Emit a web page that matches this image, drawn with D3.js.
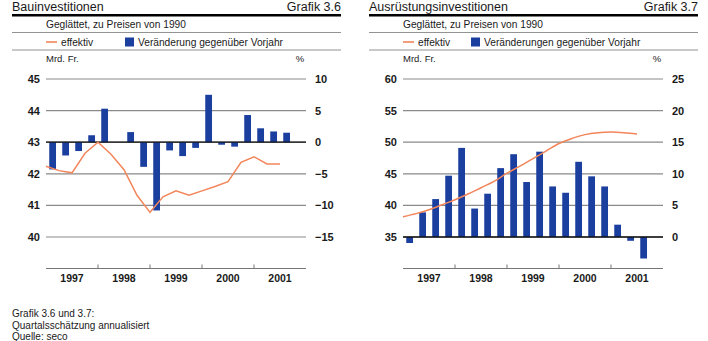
<!DOCTYPE html>
<html>
<head>
<meta charset="utf-8">
<script src="https://cdn.jsdelivr.net/npm/d3@7"></script>
<style>
  body { margin: 0; background: #fff; }
  svg { display: block; font-family: "Liberation Sans", Arial, sans-serif; }
</style>
</head>
<body>
<svg id="chart" width="708" height="341"></svg>
<script>
// quarters 1997Q1 .. 2001Q4 (20 slots), data runs to 2001Q3
let years = ["1997", "1998", "1999", "2000", "2001"];
let quarters = [];
years.forEach(y => [1, 2, 3, 4].forEach(q => quarters.push(y + "Q" + q)));

// Grafik 3.6 Bauinvestitionen
let bauEffektiv = [42.24, 42.1, 42.03, 42.65, 43.0, 42.62, 42.13, 41.32, 40.78, 41.27,
  41.46, 41.32, 41.46, 41.6, 41.75, 42.36, 42.54, 42.31, 42.31];
let bauVeraenderung = [-4.3, -2.1, -1.4, 1.1, 5.3, 0, 1.6, -3.9, -10.8, -1.3,
  -2.2, -0.9, 7.5, -0.4, -0.7, 4.3, 2.2, 1.7, 1.5];
let bauLeftTicks = [40, 41, 42, 43, 44, 45];
let bauRightTicks = [-15, -10, -5, 0, 5, 10];

// Grafik 3.7 Ausruestungsinvestitionen
let ausEffektiv = [38.2, 38.7, 39.3, 40.1, 40.9, 41.8, 42.8, 43.8, 45.1, 46.2,
  47.4, 48.6, 49.8, 50.6, 51.2, 51.5, 51.6, 51.5, 51.3];
let ausVeraenderung = [-0.95, 3.9, 6.0, 9.7, 14.1, 4.5, 6.85, 10.9, 13.1, 8.7,
  13.5, 8.0, 7.0, 11.9, 9.6, 8.0, 1.95, -0.6, -3.4];
let ausLeftTicks = [35, 40, 45, 50, 55, 60];
let ausRightTicks = [0, 5, 10, 15, 20, 25];

let blue = "#1b3f9e";
let orange = "#f2855a";
let gridGray = "#8a8a8a";
let textColor = "#1a1a1a";

let svg = d3.select("#chart");

function drawPanel(opt) {
  let g = svg.append("g");
  let left = opt.plotLeft, right = opt.plotLeft + 260;
  let top = 79, bottom = 237;

  // header
  g.append("text").attr("x", opt.panelLeft).attr("y", 10.5)
    .text(opt.title).style("font-size", "12.5px").style("fill", textColor);
  g.append("text").attr("x", opt.panelRight).attr("y", 10.5)
    .attr("text-anchor", "end")
    .text(opt.grafik).style("font-size", "12.5px").style("fill", textColor);
  g.append("rect").attr("x", opt.panelLeft).attr("y", 14)
    .attr("width", opt.panelRight - opt.panelLeft).attr("height", 2.5)
    .attr("fill", "#000");
  g.append("text").attr("x", left).attr("y", 28)
    .text("Geglättet, zu Preisen von 1990")
    .style("font-size", "10.2px").style("fill", textColor);
  g.append("line").attr("x1", opt.panelLeft).attr("x2", opt.panelRight)
    .attr("y1", 32.5).attr("y2", 32.5).attr("stroke", "#777").attr("stroke-width", 0.8);

  // legend
  g.append("line").attr("x1", left).attr("x2", left + 11)
    .attr("y1", 42).attr("y2", 42).attr("stroke", orange).attr("stroke-width", 1.6);
  g.append("text").attr("x", left + 15).attr("y", 45.5)
    .text("effektiv").style("font-size", "10.2px").style("fill", textColor);
  g.append("rect").attr("x", opt.legendSq).attr("y", 37.5)
    .attr("width", 9).attr("height", 9).attr("fill", blue);
  g.append("text").attr("x", opt.legendSq + 13).attr("y", 45.5)
    .text(opt.legendText).style("font-size", "10.2px").style("fill", textColor);
  g.append("line").attr("x1", opt.panelLeft).attr("x2", opt.panelRight)
    .attr("y1", 50).attr("y2", 50).attr("stroke", "#777").attr("stroke-width", 0.8);

  g.append("text").attr("x", left).attr("y", 62)
    .text("Mrd. Fr.").style("font-size", "9.5px").style("fill", textColor);
  g.append("text").attr("x", right - 6).attr("y", 62).attr("text-anchor", "middle")
    .text("%").style("font-size", "9.5px").style("fill", textColor);

  // scales
  let x = d3.scaleBand().domain(quarters).range([left, right]);
  let yL = d3.scaleLinear().domain(opt.leftDomain).range([bottom, top]);
  let yR = d3.scaleLinear().domain(opt.rightDomain).range([bottom, top]);

  // gridlines
  g.selectAll(".grid").data(opt.leftTicks).enter().append("line")
    .attr("x1", left).attr("x2", right)
    .attr("y1", d => yL(d)).attr("y2", d => yL(d))
    .attr("stroke", gridGray).attr("stroke-width", 1.2);

  // left axis labels
  g.append("g").attr("transform", "translate(" + (left - 6) + ",0)")
    .call(d3.axisLeft(yL).tickValues(opt.leftTicks).tickSize(0).tickPadding(0)
      .tickFormat(d3.format("d")))
    .call(a => a.select(".domain").remove())
    .selectAll("text")
      .style("font-family", "Liberation Sans, Arial, sans-serif")
      .style("font-size", "11px").style("font-weight", "bold").style("fill", textColor);

  // right axis labels
  g.append("g").attr("transform", "translate(" + (right + 9) + ",0)")
    .call(d3.axisRight(yR).tickValues(opt.rightTicks).tickSize(0).tickPadding(0)
      .tickFormat(d => d < 0 ? "\u2212" + Math.abs(d) : d))
    .call(a => a.select(".domain").remove())
    .selectAll("text")
      .style("font-family", "Liberation Sans, Arial, sans-serif")
      .style("font-size", "11px").style("font-weight", "bold").style("fill", textColor);

  // bars
  let bw = x.bandwidth();
  g.selectAll(".bar").data(opt.bars).enter().append("rect")
    .attr("x", (d, i) => x(quarters[i]) + bw * 0.25)
    .attr("width", bw * 0.52)
    .attr("y", d => yR(Math.max(0, d)))
    .attr("height", d => Math.abs(yR(d) - yR(0)))
    .attr("fill", blue);

  // zero line on top of bars
  g.append("line").attr("x1", left).attr("x2", right)
    .attr("y1", yR(0)).attr("y2", yR(0))
    .attr("stroke", "#111").attr("stroke-width", 1.3);

  // effektiv line
  let line = d3.line()
    .x((d, i) => x(quarters[i]))
    .y(d => yL(d))
    .curve(opt.smooth ? d3.curveMonotoneX : d3.curveLinear);
  g.append("path").datum(opt.line)
    .attr("d", line).attr("fill", "none")
    .attr("stroke", orange).attr("stroke-width", 1.5);

  // x axis
  let xAxisY = 268.5;
  g.append("line").attr("x1", left).attr("x2", right)
    .attr("y1", xAxisY).attr("y2", xAxisY).attr("stroke", "#777").attr("stroke-width", 1);
  g.selectAll(".ytick").data(years.slice(1)).enter().append("line")
    .attr("x1", d => x(d + "Q1")).attr("x2", d => x(d + "Q1"))
    .attr("y1", xAxisY - 4).attr("y2", xAxisY).attr("stroke", "#777");
  g.selectAll(".ylab").data(years).enter().append("text")
    .attr("x", d => x(d + "Q1") + bw * 2)
    .attr("y", 281.5).attr("text-anchor", "middle")
    .text(d => d)
    .style("font-size", "10.5px").style("font-weight", "bold").style("fill", textColor);
}

drawPanel({
  title: "Bauinvestitionen", grafik: "Grafik 3.6",
  panelLeft: 12, panelRight: 341, plotLeft: 46, legendSq: 125,
  legendText: "Veränderung gegenüber Vorjahr",
  leftDomain: [40, 45], rightDomain: [-15, 10],
  leftTicks: bauLeftTicks, rightTicks: bauRightTicks,
  bars: bauVeraenderung, line: bauEffektiv, smooth: false
});

drawPanel({
  title: "Ausrüstungsinvestitionen", grafik: "Grafik 3.7",
  panelLeft: 369, panelRight: 698, plotLeft: 403, legendSq: 471,
  legendText: "Veränderungen gegenüber Vorjahr",
  leftDomain: [35, 60], rightDomain: [0, 25],
  leftTicks: ausLeftTicks, rightTicks: ausRightTicks,
  bars: ausVeraenderung, line: ausEffektiv, smooth: true
});

// footnote
let notes = ["Grafik 3.6 und 3.7:", "Quartalsschätzung annualisiert", "Quelle: seco"];
svg.selectAll(".note").data(notes).enter().append("text")
  .attr("x", 12).attr("y", (d, i) => 317 + i * 11.5)
  .text(d => d)
  .style("font-size", "10px").style("fill", textColor);
</script>
</body>
</html>
